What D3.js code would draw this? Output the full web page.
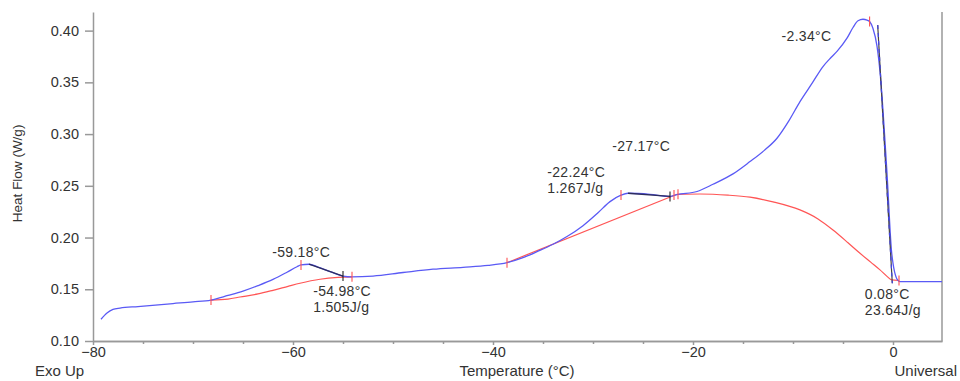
<!DOCTYPE html>
<html>
<head>
<meta charset="utf-8">
<script src="https://cdn.jsdelivr.net/npm/d3@7"></script>
<style>
  body { margin: 0; background: #fff; }
  text { font-family: "Liberation Sans", Arial, sans-serif; fill: #333; }
  .axis path, .axis line { stroke: #999; stroke-width: 1.5; }
  .axis text { font-size: 14.5px; fill: #333; }
</style>
</head>
<body>
<div id="chart-area"></div>
<script>
// heat flow signal (temperature °C, W/g)
let sample = [
  [-79.2, 0.121], [-78.6, 0.127], [-78.0, 0.1305], [-77.3, 0.1318], [-75.5, 0.1333],
  [-72.0, 0.1362], [-70.0, 0.1378], [-68.2, 0.1396], [-66.5, 0.1440], [-65.0, 0.1482],
  [-63.5, 0.1535], [-62.0, 0.1595], [-60.6, 0.1665], [-59.6, 0.1718], [-59.2, 0.1735],
  [-58.4, 0.1742], [-57.5, 0.1715], [-56.2, 0.1668], [-55.0, 0.1628], [-54.1, 0.1620],
  [-52.0, 0.1628], [-49.0, 0.1662], [-46.0, 0.1694], [-43.0, 0.1712], [-40.5, 0.1730],
  [-38.6, 0.1757], [-37.0, 0.1805], [-35.5, 0.1868], [-34.0, 0.1935], [-32.6, 0.2010],
  [-31.0, 0.2115], [-29.5, 0.2240], [-28.3, 0.2347], [-27.2, 0.2410], [-26.5, 0.2428],
  [-24.3, 0.2418], [-22.3, 0.2397], [-21.6, 0.2415], [-19.6, 0.2445], [-18.0, 0.2515],
  [-16.0, 0.2615], [-14.3, 0.2734], [-12.9, 0.2840], [-11.6, 0.2960], [-10.4, 0.3130],
  [-9.3, 0.3314], [-8.1, 0.3490], [-7.0, 0.3653], [-6.2, 0.3740], [-5.6, 0.3800],
  [-4.6, 0.3927], [-4.0, 0.4030], [-3.5, 0.4095], [-3.0, 0.4110], [-2.6, 0.4102],
  [-2.34, 0.4088], [-2.0, 0.4020], [-1.6, 0.3850], [-1.3, 0.3604], [-0.6, 0.2620],
  [-0.13, 0.1850], [0.45, 0.1590], [0.7, 0.1573], [4.9, 0.1573]
];

// integration baselines
let baseline1 = [
  [-68.2, 0.1396], [-66.5, 0.1405], [-65.3, 0.1425], [-63.5, 0.1455], [-62.0, 0.1490],
  [-60.5, 0.1528], [-59.3, 0.1558], [-57.3, 0.1597], [-55.5, 0.1615], [-54.1, 0.1620]
];
let baseline2 = [[-38.6, 0.1757], [-21.6, 0.2418]];
let baseline3 = [
  [-21.6, 0.2418], [-19.3, 0.2421], [-16.5, 0.2410], [-14.3, 0.2390], [-12.0, 0.2345],
  [-9.3, 0.2267], [-7.5, 0.2180], [-6.0, 0.2073], [-4.5, 0.1950], [-3.3, 0.1848],
  [-2.2, 0.1760], [-1.3, 0.1687], [-0.6, 0.1625], [-0.13, 0.1590], [0.6, 0.1585]
];

// analysis segments (dark)
let segment1 = [[-58.4, 0.1742], [-55.0, 0.1628]];
let segment2 = [[-26.5, 0.2428], [-22.3, 0.2397]];
let tangent = [[-1.53, 0.4055], [-0.07, 0.1558]];

let redMarks = [
  [-68.2, 0.1396], [-59.2, 0.1735], [-54.1, 0.1620], [-38.6, 0.1757], [-27.2, 0.2410],
  [-21.9, 0.2412], [-21.5, 0.2418], [-2.34, 0.4088], [0.6, 0.1585]
];
let blackMarks = [[-55.0, 0.1628], [-22.3, 0.2397]];

let xTicks = [-80, -60, -40, -20, 0];
let xMinorTicks = [-75, -70, -65, -55, -50, -45, -35, -30, -25, -15, -10, -5];
let yTicks = [0.10, 0.15, 0.20, 0.25, 0.30, 0.35, 0.40];

let labels = [
  ["-59.18°C"],
  ["-54.98°C", "1.505J/g"],
  ["-22.24°C", "1.267J/g"],
  ["-27.17°C"],
  ["-2.34°C"],
  ["0.08°C", "23.64J/g"]
];

let margin = {top: 12, right: 18, bottom: 40, left: 93},
  width = 960 - margin.left - margin.right,
  height = 381 - margin.top - margin.bottom;

let svg = d3.select("#chart-area")
  .append("svg")
  .attr("width", 960)
  .attr("height", 381)
  .append("g")
  .attr("transform", "translate(" + margin.left + "," + margin.top + ")");

let x = d3.scaleLinear().domain([-80, 4.9]).range([0, width]);
let y = d3.scaleLinear().domain([0.10, 0.418]).range([height, 0]);

// ---- AXES ----
let xAxis = d3.axisBottom(x).tickValues(xTicks).tickSize(4).tickSizeOuter(0)
  .tickFormat(d3.format("d"));
let xMinor = d3.axisBottom(x).tickValues(xMinorTicks).tickSize(3).tickSizeOuter(0)
  .tickFormat("");
let yAxis = d3.axisLeft(y).tickValues(yTicks).tickSize(8).tickSizeOuter(0)
  .tickPadding(6).tickFormat(d3.format(".2f"));

svg.append("g").attr("class", "axis")
  .attr("transform", "translate(0," + height + ")")
  .call(xMinor);
svg.append("g").attr("class", "axis")
  .attr("transform", "translate(0," + height + ")")
  .call(xAxis)
  .selectAll("text").attr("y", 5).attr("dy", "0.75em");
svg.append("g").attr("class", "axis").call(yAxis);

// right border
svg.append("line")
  .attr("x1", width).attr("x2", width)
  .attr("y1", 0).attr("y2", height)
  .attr("stroke", "#999").attr("stroke-width", 1.5);

// ---- LINES ----
let line = d3.line()
  .x(function(d) { return x(d[0]); })
  .y(function(d) { return y(d[1]); });
let smooth = d3.line()
  .x(function(d) { return x(d[0]); })
  .y(function(d) { return y(d[1]); })
  .curve(d3.curveMonotoneX);

[baseline1, baseline3].forEach(function(b) {
  svg.append("path").datum(b).attr("d", smooth)
    .attr("fill", "none").attr("stroke", "#ff5555").attr("stroke-width", 1.2);
});
svg.append("path").datum(baseline2).attr("d", line)
  .attr("fill", "none").attr("stroke", "#ff5555").attr("stroke-width", 1.2);

svg.append("path").datum(sample).attr("d", smooth)
  .attr("fill", "none").attr("stroke", "#5a5af5").attr("stroke-width", 1.3);

[segment1, segment2].forEach(function(s) {
  svg.append("path").datum(s).attr("d", line)
    .attr("fill", "none").attr("stroke", "#2e2e5e").attr("stroke-width", 1.3);
});
svg.append("path").datum(tangent).attr("d", line)
  .attr("fill", "none").attr("stroke", "#444").attr("stroke-width", 1.2);
svg.append("path").datum(tangent).attr("d", line)
  .attr("fill", "none").attr("stroke", "#4444e0").attr("stroke-width", 1.2)
  .attr("stroke-dasharray", "4,4");

// ---- MARKERS ----
svg.selectAll(".red-mark").data(redMarks).enter().append("line")
  .attr("class", "red-mark")
  .attr("x1", function(d) { return x(d[0]); })
  .attr("x2", function(d) { return x(d[0]); })
  .attr("y1", function(d) { return y(d[1]) - 5; })
  .attr("y2", function(d) { return y(d[1]) + 5; })
  .attr("stroke", "#ff5050").attr("stroke-width", 1.1);
svg.selectAll(".black-mark").data(blackMarks).enter().append("line")
  .attr("class", "black-mark")
  .attr("x1", function(d) { return x(d[0]); })
  .attr("x2", function(d) { return x(d[0]); })
  .attr("y1", function(d) { return y(d[1]) - 5; })
  .attr("y2", function(d) { return y(d[1]) + 5; })
  .attr("stroke", "#222").attr("stroke-width", 1.1);

// ---- ANNOTATIONS ----
// anchor point in data units + pixel offset for each label
let labelPos = [
  {at: [-59.18, 0.1735], dx: 0, dy: -8, anchor: "middle"},
  {at: [-54.98, 0.1628], dx: -30, dy: 20, anchor: "start"},
  {at: [-27.17, 0.2410], dx: -74, dy: -18, anchor: "start"},
  {at: [-27.17, 0.2410], dx: -9, dy: -44, anchor: "start"},
  {at: [-2.34, 0.4088], dx: -88, dy: 19, anchor: "start"},
  {at: [0.08, 0.1585], dx: -29, dy: 19, anchor: "start"}
];

labels.forEach(function(lines, i) {
  let p = labelPos[i];
  let t = svg.append("text")
    .attr("x", x(p.at[0]) + p.dx)
    .attr("y", y(p.at[1]) + p.dy)
    .attr("text-anchor", p.anchor)
    .style("font-size", "14px")
    .style("letter-spacing", "0.3px");
  lines.forEach(function(s, j) {
    t.append("tspan")
      .attr("x", x(p.at[0]) + p.dx)
      .attr("dy", j === 0 ? 0 : 16)
      .text(s);
  });
});

// ---- AXIS TITLES ----
svg.append("text")
  .attr("transform", "rotate(-90)")
  .attr("x", -(y(0.262)))
  .attr("y", -margin.left + 22)
  .style("text-anchor", "middle")
  .style("font-size", "13.5px")
  .text("Heat Flow (W/g)");

svg.append("text")
  .attr("x", -58).attr("y", height + 35)
  .style("font-size", "15px")
  .text("Exo Up");
svg.append("text")
  .attr("x", 424).attr("y", height + 35)
  .style("text-anchor", "middle")
  .style("font-size", "15px")
  .text("Temperature (°C)");
svg.append("text")
  .attr("x", width + 15).attr("y", height + 35)
  .style("text-anchor", "end")
  .style("font-size", "15px")
  .text("Universal");
</script>
</body>
</html>
